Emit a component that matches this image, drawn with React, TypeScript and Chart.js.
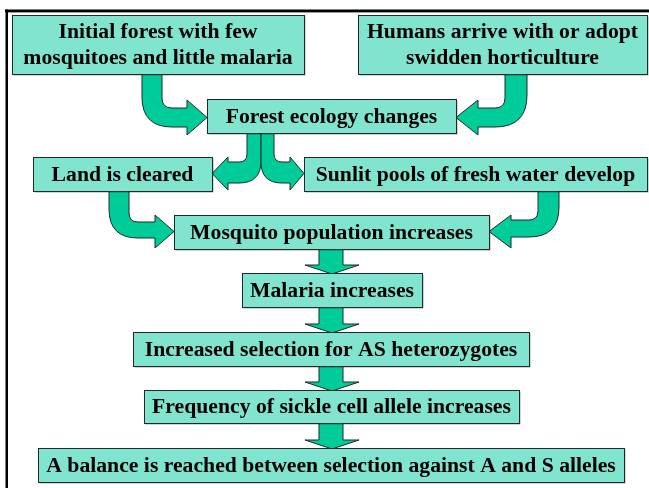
import React, { useEffect, useRef } from "react";
import { Chart, registerables } from "chart.js";

Chart.register(...registerables);

// ---- content (data) ----
const STEP_LABELS: string[][] = [
  ["Initial forest with few", "mosquitoes and little malaria"],
  ["Humans arrive with or adopt", "swidden horticulture"],
  ["Forest ecology changes"],
  ["Land is cleared"],
  ["Sunlit pools of fresh water develop"],
  ["Mosquito population increases"],
  ["Malaria increases"],
  ["Increased selection for AS heterozygotes"],
  ["Frequency of sickle cell allele increases"],
  ["A balance is reached between selection against A and S alleles"],
];
const CURVED_FROM = [0, 1, 2, 2, 3, 4];
const CURVED_TO = [2, 2, 3, 4, 5, 5];
const STRAIGHT_FROM = [5, 6, 7, 8];
const STRAIGHT_TO = [6, 7, 8, 9];

// ---- layout (positions & sizes, in scale units) ----
const BOX_RECTS: number[][] = [
  [12, 15, 304, 74],
  [358, 15, 647, 74],
  [207, 99, 456, 133],
  [33, 157, 212, 191],
  [304, 157, 647, 191],
  [174, 215, 489, 249],
  [242, 273, 422, 307],
  [133, 332, 529, 366],
  [144, 390, 519, 423],
  [38, 448, 624, 482],
];
// dir, shaftX0, shaftX1, bandY0, bandY1, headBaseX, headY0, headY1, innerRadius
const CURVE_GEOM: number[][] = [
  [1, 142, 162, 108, 127, 187, 100, 135, 10],
  [-1, 505, 527, 108, 127, 478, 100, 135, 10],
  [-1, 247, 261, 162, 183, 228, 157, 190, 8],
  [1, 261, 274, 162, 183, 290, 157, 190, 8],
  [1, 109, 129, 222, 238, 155, 215, 248, 9],
  [-1, 538, 559, 220, 237, 511, 215, 248, 9],
];
const DOWN_SHAFT = [319, 343];
const DOWN_HEAD = [305, 359];

const BOX_FILL = "#80E4CE";
const ARROW_FILL = "#00CC99";
const EDGE = "#1f2a28";
const FONT = 'bold 21.7px "Liberation Serif", "Times New Roman", serif';

const flowPlugin = {
  id: "flow",
  afterDatasetsDraw(chart: any) {
    const ctx: CanvasRenderingContext2D = chart.ctx;
    const X = (v: number) => chart.scales.x.getPixelForValue(v);
    const Y = (v: number) => chart.scales.y.getPixelForValue(v);
    ctx.save();

    // frame
    ctx.fillStyle = "#000";
    ctx.fillRect(X(5), Y(9.5), X(649) - X(5), 2.5);
    ctx.fillRect(X(5.5), Y(9.5), 2.5, Y(488) - Y(9.5));
    ctx.fillStyle = "#9a9a9a";
    ctx.fillRect(X(8), Y(12), X(649) - X(8), 1);

    // curved arrows
    CURVED_FROM.forEach((f, i) => {
      const t = CURVED_TO[i];
      const [dir, sx0, sx1, b0, b1, hb, h0, h1, r1] = CURVE_GEOM[i];
      const fromBox = BOX_RECTS[f];
      const toBox = BOX_RECTS[t];
      const sy = fromBox[3];
      const tipX = dir > 0 ? toBox[0] : toBox[2];
      const outerX = dir > 0 ? sx0 : sx1;
      const innerX = dir > 0 ? sx1 : sx0;
      const r2 = r1 + (sx1 - sx0);
      ctx.beginPath();
      ctx.moveTo(X(outerX), Y(sy));
      ctx.lineTo(X(innerX), Y(sy));
      ctx.lineTo(X(innerX), Y(b0 - r1));
      ctx.quadraticCurveTo(X(innerX), Y(b0), X(innerX + dir * r1), Y(b0));
      ctx.lineTo(X(hb), Y(b0));
      ctx.lineTo(X(hb), Y(h0));
      ctx.lineTo(X(tipX), Y((h0 + h1) / 2));
      ctx.lineTo(X(hb), Y(h1));
      ctx.lineTo(X(hb), Y(b1));
      ctx.lineTo(X(outerX + dir * r2), Y(b1));
      ctx.quadraticCurveTo(X(outerX), Y(b1), X(outerX), Y(b1 - r2));
      ctx.closePath();
      ctx.fillStyle = ARROW_FILL;
      ctx.fill();
      ctx.lineWidth = 1;
      ctx.strokeStyle = EDGE;
      ctx.stroke();
    });

    // straight down arrows
    STRAIGHT_FROM.forEach((f, i) => {
      const t = STRAIGHT_TO[i];
      const top = BOX_RECTS[f][3];
      const nextTop = BOX_RECTS[t][1];
      const headTop = nextTop - 8;
      const cx = (DOWN_HEAD[0] + DOWN_HEAD[1]) / 2;
      ctx.beginPath();
      ctx.moveTo(X(DOWN_SHAFT[0]), Y(top));
      ctx.lineTo(X(DOWN_SHAFT[1]), Y(top));
      ctx.lineTo(X(DOWN_SHAFT[1]), Y(headTop));
      ctx.lineTo(X(DOWN_HEAD[1]), Y(headTop));
      ctx.lineTo(X(cx), Y(nextTop + 1));
      ctx.lineTo(X(DOWN_HEAD[0]), Y(headTop));
      ctx.lineTo(X(DOWN_SHAFT[0]), Y(headTop));
      ctx.closePath();
      ctx.fillStyle = ARROW_FILL;
      ctx.fill();
      ctx.lineWidth = 1;
      ctx.strokeStyle = EDGE;
      ctx.stroke();
    });

    // boxes
    BOX_RECTS.forEach((r, i) => {
      const x0 = Math.round(X(r[0])) + 0.5;
      const y0 = Math.round(Y(r[1])) + 0.5;
      const w = Math.round(X(r[2]) - X(r[0]));
      const h = Math.round(Y(r[3]) - Y(r[1]));
      ctx.fillStyle = "rgba(0,0,0,0.35)";
      ctx.fillRect(x0 + 1, y0 + 1, w, h);
      ctx.fillStyle = BOX_FILL;
      ctx.fillRect(x0, y0, w, h);
      ctx.lineWidth = 1;
      ctx.strokeStyle = EDGE;
      ctx.strokeRect(x0, y0, w, h);
      const lines = STEP_LABELS[i];
      ctx.fillStyle = "#000";
      ctx.font = FONT;
      ctx.textAlign = "center";
      ctx.textBaseline = "middle";
      const cx = X((r[0] + r[2]) / 2);
      const cy = Y((r[1] + r[3]) / 2);
      const lh = 26;
      lines.forEach((ln, k) => {
        ctx.fillText(ln, cx, cy + (k - (lines.length - 1) / 2) * lh + 1);
      });
    });
    ctx.restore();
  },
};

export default function App() {
  const ref = useRef<HTMLCanvasElement | null>(null);
  useEffect(() => {
    if (!ref.current) return;
    const centers = BOX_RECTS.map((r) => ({ x: (r[0] + r[2]) / 2, y: (r[1] + r[3]) / 2 }));
    const chart = new Chart(ref.current, {
      type: "scatter",
      data: {
        datasets: [
          {
            label: "steps",
            data: centers,
            pointRadius: 0,
            pointHoverRadius: 0,
          },
        ],
      },
      options: {
        animation: false,
        responsive: false,
        maintainAspectRatio: false,
        layout: { padding: 0 },
        events: [],
        plugins: { legend: { display: false }, tooltip: { enabled: false } },
        scales: {
          x: { type: "linear", min: 0, max: 649, display: false },
          y: { type: "linear", min: 0, max: 488, reverse: true, display: false },
        },
      },
      plugins: [flowPlugin],
    });
    return () => chart.destroy();
  }, []);
  return (
    <div style={{ position: "absolute", left: 0, top: 0, width: 649, height: 488, background: "#fff" }}>
      <canvas ref={ref} width={649} height={488} style={{ width: 649, height: 488, display: "block" }} />
    </div>
  );
}
